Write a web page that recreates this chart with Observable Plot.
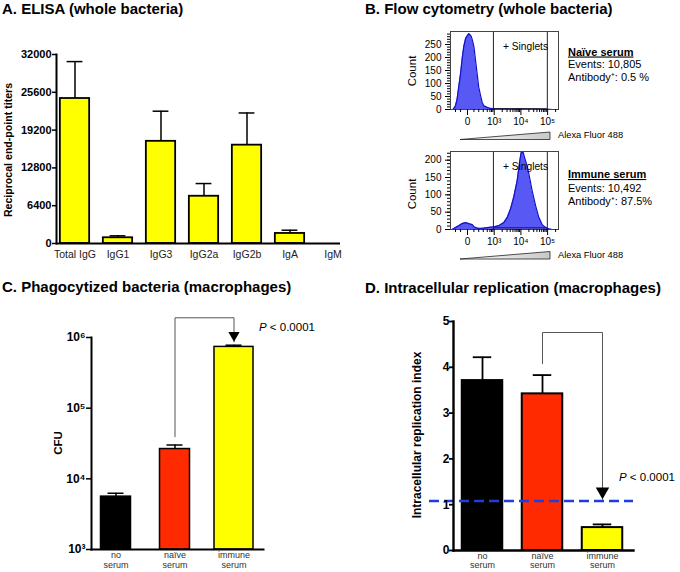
<!DOCTYPE html>
<html><head><meta charset="utf-8">
<script src="https://cdn.jsdelivr.net/npm/d3@7"></script>
<script src="https://cdn.jsdelivr.net/npm/@observablehq/plot@0.6"></script>
<style>
html,body{margin:0;padding:0;background:#fff;}
#root{position:relative;width:680px;height:572px;overflow:hidden;font-family:"Liberation Sans",Arial,Helvetica,sans-serif;}
#root svg.p{position:absolute;overflow:visible;}
#root svg.ov{position:absolute;left:0;top:0;pointer-events:none;overflow:visible;}
</style></head><body><div id="root"></div>
<script>
const FONT = '"Liberation Sans", Arial, Helvetica, sans-serif';

// ---------- Panel A: ELISA ----------
const elisaCategories = ["Total IgG", "IgG1", "IgG3", "IgG2a", "IgG2b", "IgA", "IgM"];
const elisaTiters = [24550, 970, 17300, 8000, 16650, 1700, 0];
const elisaErrors = [30800, 1300, 22400, 10150, 22100, 2250, 0];
const elisaTicks = [0, 6400, 12800, 19200, 25600, 32000];

// ---------- Panel B: flow cytometry (display units: 2 = "0", 3 = 10^3, 4 = 10^4, 5 = 10^5) ----------
const naiveX = [1.40, 1.46, 1.55, 1.61, 1.67, 1.74, 1.80, 1.86, 1.93, 1.99, 2.05, 2.09, 2.14, 2.18, 2.24, 2.30, 2.36, 2.42, 2.49, 2.55, 2.61, 2.74, 2.86, 2.99, 3.3, 3.6, 3.9, 4.2, 4.5, 4.8, 5.0, 5.2];
const naiveCount = [0, 0, 14, 40, 86, 138, 196, 242, 274, 283, 292, 288, 281, 268, 242, 190, 138, 86, 53, 27, 14, 8, 4, 3, 3, 2, 3, 2, 2, 1, 1, 0];
const immuneX = [1.40, 1.43, 1.55, 1.67, 1.80, 1.93, 2.05, 2.18, 2.24, 2.36, 2.49, 2.61, 2.80, 2.99, 3.17, 3.36, 3.49, 3.61, 3.73, 3.86, 3.96, 4.01, 4.09, 4.13, 4.21, 4.30, 4.42, 4.55, 4.67, 4.80, 4.92, 5.04, 5.17];
const immuneCount = [0, 0, 6, 11, 17, 20, 17, 14, 8, 4, 3, 4, 6, 8, 11, 20, 35, 59, 93, 141, 199, 222, 222, 209, 189, 160, 112, 69, 35, 14, 6, 2, 0];
const flowMajorX = [2, 3, 4, 5];
const flowXLabels = ["0", "10³", "10⁴", "10⁵"];
const flowMinorX = [1.55, 1.74, 2.24, 2.42, 2.59, 2.74, 2.84, 2.90, 2.95, 3.30, 3.48, 3.60, 3.70, 3.78, 3.85, 3.90, 3.95, 4.30, 4.48, 4.60, 4.70, 4.78, 4.85, 4.90, 4.95, 5.30];
const singletGate = [2.97, 4.99];
const naiveYTicks = [0, 50, 100, 150, 200, 250];
const immuneYTicks = [0, 50, 100, 150, 200];

// ---------- Panel C: phagocytized bacteria ----------
const serumGroups = ["no serum", "naïve serum", "immune serum"];
const serumColors = ["#000000", "#ff2a00", "#ffff00"];
const cfuMeans = [5600, 26400, 736000];
const cfuErrors = [6250, 30100, 778000];
const cfuTicks = [1e3, 1e4, 1e5, 1e6];
const cfuBracket = [39500, 1.9e6, 870000]; // start (naïve), top, arrow tip (immune)

// ---------- Panel D: intracellular replication ----------
const replicationMeans = [3.71, 3.42, 0.50];
const replicationErrors = [4.22, 3.83, 0.57];
const replicationTicks = [0, 1, 2, 3, 4, 5];
const replicationThreshold = 1.08;
const replicationBracket = [4.08, 4.76, 1.12];

const root = document.getElementById("root");
function place(svg, left, top) {
  svg.classList.add("p");
  svg.style.left = left + "px";
  svg.style.top = top + "px";
  root.appendChild(svg);
}
const baseStyle = {fontFamily: FONT, fontSize: "10px", color: "#000", background: "transparent", overflow: "visible"};

// ---------- Plot A ----------
const elisaData = elisaCategories.map((c, i) => ({cat: c, v: elisaTiters[i], e: elisaErrors[i]}));
place(Plot.plot({
  width: 340, height: 265, marginLeft: 56, marginRight: 0, marginTop: 54, marginBottom: 22,
  style: baseStyle,
  x: {type: "band", domain: elisaCategories, range: [51.9, 354.3], padding: 0},
  y: {domain: [0, 32000]},
  marks: [
    Plot.ruleX(elisaData.filter(d => d.e > 0), {x: "cat", y1: "v", y2: "e", stroke: "#000", strokeWidth: 1.5}),
    Plot.tickY(elisaData.filter(d => d.e > 0), {x: "cat", y: "e", stroke: "#000", strokeWidth: 1.5, insetLeft: 13.6, insetRight: 13.6}),
    Plot.barY(elisaData.filter(d => d.v > 0), {x: "cat", y: "v", fill: "#ffff00", stroke: "#000", strokeWidth: 1.8, insetLeft: 6.85, insetRight: 6.85}),
    Plot.axisY({ticks: elisaTicks, tickSize: 4, tickPadding: 1, tickFormat: d3.format("d"), fontWeight: "bold", fontSize: 11, label: null, strokeWidth: 1.5}),
    Plot.axisX({tickSize: 0, tickPadding: 7, fontSize: 10.5, label: null, fill: "#222"}),
    Plot.frame({anchor: "left", stroke: "#000", strokeWidth: 2}),
    Plot.ruleY([0], {stroke: "#000", strokeWidth: 2})
  ]
}), 0, 0);

// ---------- Plot B ----------
function flowPlot(xs, counts, ymax, yMajor, gateY) {
  const data = xs.map((x, i) => ({x, c: counts[i]}));
  return Plot.plot({
    width: 165, height: 112, marginLeft: 50, marginRight: 7, marginTop: 11, marginBottom: 23,
    style: baseStyle,
    x: {domain: [1.363, 5.408]},
    y: {domain: [0, ymax]},
    marks: [
      Plot.areaY(data, {x: "x", y: "c", fill: "#5858f4"}),
      Plot.lineY(data, {x: "x", y: "c", stroke: "#1212c8", strokeWidth: 1.2}),
      Plot.ruleX(singletGate, {stroke: "#222", strokeWidth: 1}),
      Plot.ruleY([gateY], {x1: singletGate[0], x2: singletGate[1], stroke: "#222", strokeWidth: 1}),
      Plot.frame({stroke: "#444"}),
      Plot.axisY({ticks: yMajor, tickSize: 5, tickPadding: 4, fontSize: 10, label: null}),
      Plot.axisY({ticks: d3.range(0, ymax, 10), tickSize: 3, text: null, label: null}),
      Plot.axisX({ticks: flowMajorX, tickSize: 6, tickPadding: 2, tickFormat: d => flowXLabels[flowMajorX.indexOf(d)], fontSize: 10, label: null}),
      Plot.axisX({ticks: flowMinorX, tickSize: 3, text: null, label: null})
    ]
  });
}
place(flowPlot(naiveX, naiveCount, 300, naiveYTicks, 3), 400, 20);
place(flowPlot(immuneX, immuneCount, 225, immuneYTicks, 5), 400, 140);

// ---------- Plot C ----------
const sup = {3: "³", 4: "⁴", 5: "⁵", 6: "⁶"};
const cfuData = serumGroups.map((g, i) => ({g, v: cfuMeans[i], e: cfuErrors[i], col: serumColors[i]}));
const cfuLine = [
  {g: serumGroups[1], y: cfuBracket[0]}, {g: serumGroups[1], y: cfuBracket[1]},
  {g: serumGroups[2], y: cfuBracket[1]}, {g: serumGroups[2], y: cfuBracket[2]}
];
place(Plot.plot({
  width: 340, height: 302, marginLeft: 91, marginRight: 77, marginTop: 67, marginBottom: 23,
  style: baseStyle,
  x: {type: "band", domain: serumGroups, range: [86, 263], padding: 0},
  y: {type: "log", domain: [1e3, 1e6]},
  marks: [
    Plot.line(cfuLine, {x: "g", y: "y", stroke: "#555", strokeWidth: 1, clip: false}),
    Plot.dot([cfuLine[3]], {x: "g", y: "y", symbol: "triangle", rotate: 180, r: 4.2, dy: -6.5, fill: "#000", stroke: "none"}),
    Plot.ruleX(cfuData, {x: "g", y1: "v", y2: "e", stroke: "#000", strokeWidth: 1.5}),
    Plot.tickY(cfuData, {x: "g", y: "e", stroke: "#000", strokeWidth: 1.5, insetLeft: 21.5, insetRight: 21.5}),
    Plot.barY(cfuData.slice(0, 2), {x: "g", y1: 1e3, y2: "v", fill: "col", stroke: "#000", strokeWidth: 1.5, insetLeft: 14.5, insetRight: 14.5}),
    Plot.barY(cfuData.slice(2), {x: "g", y1: 1e3, y2: "v", fill: "col", stroke: "#000", strokeWidth: 1.5, insetLeft: 10, insetRight: 10}),
    Plot.axisY({ticks: cfuTicks, tickSize: 5, tickPadding: 1, tickFormat: d => "10" + sup[Math.round(Math.log10(d))], fontWeight: "bold", fontSize: 12, label: null, strokeWidth: 1.5}),
    Plot.axisX({tickSize: 0, tickPadding: 2, fontSize: 9, lineHeight: 1.05, label: null, fill: "#333", tickFormat: d => d.replace(" ", "\n")}),
    Plot.frame({anchor: "left", stroke: "#000", strokeWidth: 2}),
    Plot.frame({anchor: "bottom", stroke: "#000", strokeWidth: 2})
  ]
}), 0, 270);

// ---------- Plot D ----------
const repData = serumGroups.map((g, i) => ({g, v: replicationMeans[i], e: replicationErrors[i], col: serumColors[i]}));
const repLine = [
  {g: serumGroups[1], y: replicationBracket[0]}, {g: serumGroups[1], y: replicationBracket[1]},
  {g: serumGroups[2], y: replicationBracket[1]}, {g: serumGroups[2], y: replicationBracket[2]}
];
place(Plot.plot({
  width: 340, height: 302, marginLeft: 113, marginRight: 47, marginTop: 51, marginBottom: 22,
  style: baseStyle,
  x: {type: "band", domain: serumGroups, range: [111.45, 293], padding: 0},
  y: {domain: [0, 5]},
  marks: [
    Plot.line(repLine, {x: "g", y: "y", stroke: "#555", strokeWidth: 1}),
    Plot.dot([repLine[3]], {x: "g", y: "y", symbol: "triangle", rotate: 180, r: 5, dy: -7.7, fill: "#000", stroke: "none"}),
    Plot.ruleX(repData, {x: "g", y1: "v", y2: "e", stroke: "#000", strokeWidth: 1.8}),
    Plot.tickY(repData, {x: "g", y: "e", stroke: "#000", strokeWidth: 1.8, insetLeft: 20.75, insetRight: 20.75}),
    Plot.barY(repData, {x: "g", y: "v", fill: "col", stroke: "#000", strokeWidth: 2, insetLeft: 9.75, insetRight: 9.75}),
    Plot.ruleY([replicationThreshold], {stroke: "#1f3ee0", strokeWidth: 2.6, strokeDasharray: "10,5", insetLeft: -24}),
    Plot.axisY({ticks: replicationTicks, tickSize: 4, tickPadding: 0, tickFormat: d3.format("d"), fontWeight: "bold", fontSize: 12, label: null, strokeWidth: 1.8}),
    Plot.axisX({tickSize: 0, tickPadding: 1.5, fontSize: 9, lineHeight: 1.05, label: null, fill: "#333", tickFormat: d => d.replace(" ", "\n")}),
    Plot.frame({anchor: "left", stroke: "#000", strokeWidth: 2.4}),
    Plot.frame({anchor: "bottom", stroke: "#000", strokeWidth: 2.4})
  ]
}), 340, 270);

// ---------- Text overlay ----------
const ov = `
<svg class="ov" width="680" height="572" font-family='${FONT}'>
  <defs>
    <linearGradient id="wedge" x1="0" x2="1" y1="0" y2="0">
      <stop offset="0" stop-color="#ffffff"/><stop offset="1" stop-color="#c8c8c8"/>
    </linearGradient>
  </defs>
  <g font-weight="bold" font-size="15">
    <text x="2" y="13.5">A. ELISA (whole bacteria)</text>
    <text x="365" y="13.5">B. Flow cytometry (whole bacteria)</text>
    <text x="2" y="291.5">C. Phagocytized bacteria (macrophages)</text>
    <text x="365" y="292.5">D. Intracellular replication (macrophages)</text>
  </g>
  <text font-weight="bold" font-size="10.6" text-anchor="middle" transform="translate(11.5,150) rotate(-90)">Reciprocal end-point titers</text>
  <text font-weight="bold" font-size="11.5" text-anchor="middle" transform="translate(61.5,443) rotate(-90)">CFU</text>
  <text font-weight="bold" font-size="12" text-anchor="middle" transform="translate(421,435) rotate(-90)">Intracellular replication index</text>
  <text font-size="11.5" x="259" y="331"><tspan font-style="italic">P</tspan> &lt; 0.0001</text>
  <text font-size="11.5" x="619" y="481"><tspan font-style="italic">P</tspan> &lt; 0.0001</text>

  <g font-size="11.5">
    <text text-anchor="middle" transform="translate(416,71) rotate(-90)">Count</text>
    <text text-anchor="middle" transform="translate(416,194) rotate(-90)">Count</text>
  </g>
  <g font-size="10.2">
    <text x="503" y="49.5">+ Singlets</text>
    <text x="503" y="169.5">+ Singlets</text>
  </g>
  <g font-size="11">
    <text x="568" y="55.5" font-weight="bold" text-decoration="underline">Naïve serum</text>
    <text x="568" y="68">Events: 10,805</text>
    <text x="568" y="80.5">Antibody⁺: 0.5 %</text>
    <text x="568" y="178" font-weight="bold" text-decoration="underline">Immune serum</text>
    <text x="568" y="191.5">Events: 10,492</text>
    <text x="568" y="205">Antibody⁺: 87.5%</text>
  </g>
  <polygon points="460,139.5 550,132 550,139.5" fill="url(#wedge)" stroke="#222" stroke-width="0.8"/>
  <polygon points="460,259 550,251.5 550,259" fill="url(#wedge)" stroke="#222" stroke-width="0.8"/>
  <g font-size="9.3">
    <text x="558" y="138">Alexa Fluor 488</text>
    <text x="558" y="257.5">Alexa Fluor 488</text>
  </g>
</svg>`;
root.insertAdjacentHTML("beforeend", ov);
</script>
</body></html>
